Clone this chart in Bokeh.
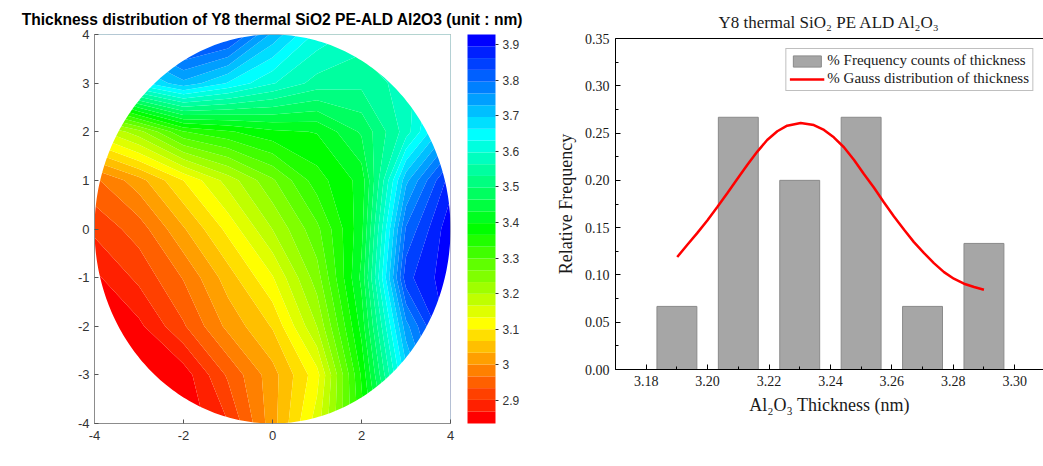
import colorsys
import numpy as np
from bokeh.plotting import figure
from bokeh.layouts import row
from bokeh.models import (FixedTicker, NumeralTickFormatter,
                          CustomJSTickFormatter, LinearAxis, Legend, LegendItem, Range1d)
from bokeh.embed import file_html
from bokeh.resources import INLINE

# ---------------- Wafer map data (thickness in nm, 1-unit grid) ----------------
grid_x = [-4, -3, -2, -1, 0, 1, 2, 3, 4]
grid_y = [-4, -3, -2, -1, 0, 1, 2, 3, 4]
row_ym4 = [2.84, 2.84, 2.84, 2.90, 3.02, 3.15, 3.35, 3.58, 3.78]
row_ym3 = [2.84, 2.84, 2.85, 2.94, 3.02, 3.12, 3.37, 3.68, 3.88]
row_ym2 = [2.84, 2.86, 2.93, 3.01, 3.07, 3.20, 3.41, 3.75, 3.92]
row_ym1 = [2.86, 2.91, 2.97, 3.05, 3.13, 3.25, 3.44, 3.85, 3.92]
row_y0 = [2.91, 2.95, 3.03, 3.11, 3.20, 3.29, 3.42, 3.80, 3.92]
row_y1 = [2.96, 3.02, 3.10, 3.18, 3.26, 3.35, 3.41, 3.72, 3.88]
row_y2 = [3.15, 3.22, 3.33, 3.36, 3.39, 3.40, 3.47, 3.58, 3.74]
row_y3 = [3.50, 3.65, 3.72, 3.66, 3.60, 3.55, 3.54, 3.58, 3.68]
row_y4 = [3.70, 3.80, 3.88, 3.85, 3.72, 3.62, 3.58, 3.60, 3.66]
z_min, z_max = 2.835, 3.928
n_bands = 33
cbar_ticks = [2.9, 3.0, 3.1, 3.2, 3.3, 3.4, 3.5, 3.6, 3.7, 3.8, 3.9]
map_xticks = [-4, -2, 0, 2, 4]
map_yticks = [-4, -3, -2, -1, 0, 1, 2, 3, 4]
wafer_radius = 4

# ---------------- Histogram data ----------------
bin_centers = [3.19, 3.21, 3.23, 3.25, 3.27, 3.29]
rel_freq = [0.0667, 0.2667, 0.2000, 0.2667, 0.0667, 0.1333]
gauss_x = [3.1901, 3.1934, 3.1966, 3.1999, 3.2031, 3.2064, 3.2096, 3.2129, 3.2162,
           3.2194, 3.2227, 3.2259, 3.2303, 3.2346, 3.2379, 3.2411, 3.2444, 3.2477,
           3.2509, 3.2542, 3.2574, 3.2607, 3.2640, 3.2672, 3.2705, 3.2737, 3.2770,
           3.2802, 3.2835, 3.2868, 3.2900]
gauss_y = [0.1189, 0.1319, 0.1442, 0.1576, 0.1716, 0.1864, 0.2012, 0.2163, 0.2304,
           0.2427, 0.2519, 0.2578, 0.2607, 0.2585, 0.2533, 0.2455, 0.2350, 0.2216,
           0.2068, 0.1921, 0.1769, 0.1618, 0.1477, 0.1347, 0.1231, 0.1125, 0.1030,
           0.0960, 0.0907, 0.0872, 0.0844]
hist_xticks = [3.18, 3.20, 3.22, 3.24, 3.26, 3.28, 3.30]
hist_xminor = [3.17, 3.19, 3.21, 3.23, 3.25, 3.27, 3.29]
hist_yticks = [0.00, 0.05, 0.10, 0.15, 0.20, 0.25, 0.30, 0.35]
hist_yminor = [0.025, 0.075, 0.125, 0.175, 0.225, 0.275, 0.325]

# ---------------- Left: contour wafer map ----------------
z = np.array([row_ym4, row_ym3, row_ym2, row_ym1, row_y0, row_y1, row_y2, row_y3, row_y4])
levels = np.linspace(z_min, z_max, n_bands + 1)
palette = []
for i in range(n_bands):
    r, g, b = colorsys.hsv_to_rgb((240.0 * i / (n_bands - 1)) / 360.0, 1, 1)
    palette.append("#%02x%02x%02x" % (int(round(r * 255)), int(round(g * 255)), int(round(b * 255))))

p1 = figure(width=540, height=466, x_range=Range1d(-4, 4), y_range=Range1d(-4, 4),
            output_backend="svg", toolbar_location=None,
            min_border_left=94, min_border_right=90, min_border_top=34, min_border_bottom=43)
p1.frame_align = False
p1.title.text = "Thickness distribution of Y8 thermal SiO2 PE-ALD Al2O3 (unit : nm)"
p1.title.align = "center"
p1.title.vertical_align = "top"
p1.title.text_font = "Liberation Sans"
p1.title.text_font_size = "15.6px"
p1.title.text_font_style = "bold"
p1.title.text_color = "black"
p1.grid.visible = False
p1.outline_line_color = "#8c8c8c"
p1.background_fill_color = "white"

cr = p1.contour(grid_x, grid_y, z, levels, fill_color=palette, line_color=None)

theta = np.linspace(0, 2 * np.pi, 361)
cx = list(wafer_radius * np.cos(theta))
cy = list(wafer_radius * np.sin(theta))
p1.multi_polygons(xs=[[[[-6, 6, 6, -6], cx]]], ys=[[[[-6, -6, 6, 6], cy]]],
                  fill_color="white", line_color=None)

hyphen_fmt = CustomJSTickFormatter(code="return tick.toString();")
for ax in (p1.xaxis[0], p1.yaxis[0]):
    ax.axis_line_color = "#8c8c8c"
    ax.major_tick_line_color = "#555555"
    ax.major_tick_in = 4
    ax.major_tick_out = 0
    ax.minor_tick_line_color = None
    ax.major_label_text_font = "Liberation Sans"
    ax.major_label_text_font_size = "13px"
    ax.major_label_text_color = "#333333"
    ax.formatter = hyphen_fmt
p1.xaxis.ticker = FixedTicker(ticks=map_xticks)
p1.yaxis.ticker = FixedTicker(ticks=map_yticks)
p1.xaxis.major_label_standoff = 7
p1.yaxis.major_label_standoff = 5

cb = cr.construct_color_bar(
    width=28, height=389, padding=0, margin=0, location=(17, 0),
    major_label_text_font="Liberation Sans", major_label_text_font_size="12px",
    major_label_text_color="#333333", label_standoff=4,
    major_tick_in=0, major_tick_out=3, major_tick_line_color="#333333",
    bar_line_color="#555555", border_line_color=None, background_fill_color=None,
)
cb.ticker = FixedTicker(ticks=cbar_ticks)
cb.formatter = CustomJSTickFormatter(code="return tick.toFixed(1).replace(/\\.0$/, '');")
p1.add_layout(cb, "right")

# ---------------- Right: histogram + gauss ----------------
p2 = figure(width=503, height=466, x_range=Range1d(3.17, 3.3094), y_range=Range1d(0, 0.35),
            output_backend="svg", toolbar_location=None,
            min_border_left=75, min_border_right=0, min_border_top=38, min_border_bottom=97)
p2.frame_align = False
p2.title.text = "Y8 thermal SiO\u2082 PE ALD Al\u2082O\u2083"
p2.title.align = "center"
p2.title.vertical_align = "top"
p2.title.text_font = "Liberation Serif"
p2.title.text_font_size = "17px"
p2.title.text_font_style = "normal"
p2.title.text_color = "#1a1a1a"
p2.grid.visible = False
p2.outline_line_color = None

bars = p2.vbar(x=bin_centers, top=rel_freq, width=0.013, fill_color="#a6a6a6",
               line_color="#8a8a8a", line_width=1)
gl = p2.line(gauss_x, gauss_y, line_color="#ff0000", line_width=2.5)

p2.xaxis.ticker = FixedTicker(ticks=hist_xticks, minor_ticks=hist_xminor)
p2.yaxis.ticker = FixedTicker(ticks=hist_yticks, minor_ticks=hist_yminor)
p2.xaxis.formatter = NumeralTickFormatter(format="0.00")
p2.yaxis.formatter = NumeralTickFormatter(format="0.00")
p2.xaxis.axis_label = "Al\u2082O\u2083 Thickness (nm)"
p2.yaxis.axis_label = "Relative Frequency"
for ax in (p2.xaxis[0], p2.yaxis[0]):
    ax.axis_line_color = "black"
    ax.major_tick_line_color = "black"
    ax.minor_tick_line_color = "black"
    ax.major_tick_in = 5
    ax.major_tick_out = 0
    ax.minor_tick_in = 3
    ax.minor_tick_out = 0
    ax.major_label_text_font = "Liberation Serif"
    ax.major_label_text_font_size = "14px"
    ax.major_label_text_color = "#1a1a1a"
    ax.axis_label_text_font = "Liberation Serif"
    ax.axis_label_text_font_size = "18px"
    ax.axis_label_text_font_style = "normal"
    ax.axis_label_text_color = "#1a1a1a"
    ax.major_label_standoff = 6
    ax.axis_label_standoff = 6

top_axis = LinearAxis(ticker=FixedTicker(ticks=[]), axis_line_color="black",
                      major_tick_line_color=None, minor_tick_line_color=None,
                      major_tick_out=0, major_tick_in=0, major_label_standoff=0)
p2.add_layout(top_axis, "above")

legend = Legend(items=[LegendItem(label="% Frequency counts of thickness", renderers=[bars]),
                       LegendItem(label="% Gauss distribution of thickness", renderers=[gl])],
                location="top_right")
legend.label_text_font = "Liberation Serif"
legend.label_text_font_size = "15px"
legend.label_text_color = "#1a1a1a"
legend.glyph_width = 35
legend.glyph_height = 14
legend.label_height = 16
legend.label_standoff = 3
legend.spacing = 1
legend.padding = 3
legend.margin = 10
legend.border_line_color = "#808080"
legend.background_fill_alpha = 1
p2.add_layout(legend)

layout = row(p1, p2)
open("out.html", "w").write(file_html(layout, INLINE))
